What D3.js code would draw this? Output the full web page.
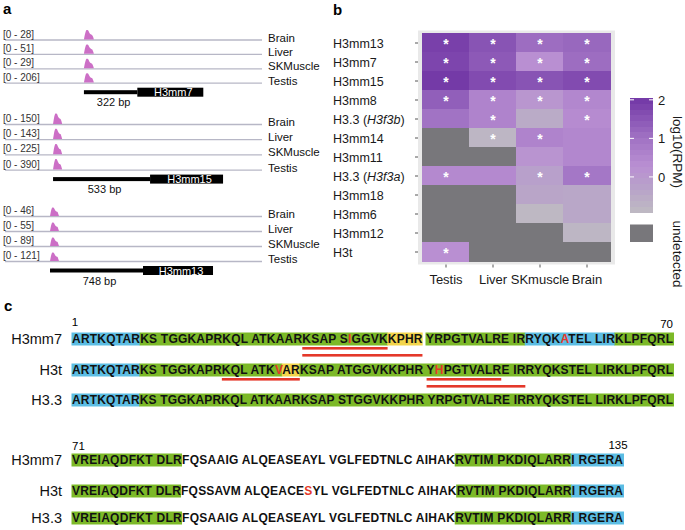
<!DOCTYPE html>
<html><head><meta charset="utf-8">
<script src="https://cdn.jsdelivr.net/npm/d3@7"></script>
<style>body{margin:0;background:#fff}svg{font-family:"Liberation Sans",Arial,Helvetica,sans-serif}</style>
</head><body>
<svg id="fig" width="685" height="530"></svg>
<script>
// ---------------- DATA ----------------
// Panel a : RNA-seq coverage tracks
const trackTissues = ["Brain", "Liver", "SKMuscle", "Testis"];
const locusGenes = ["H3mm7", "H3mm15", "H3mm13"];
const locusDistanceBp = [322, 533, 748];
const locusWindowBp = [1550, 1412, 2067];
const peakStartBp = [476, 264, 362];
const peakWidthBp = [60, 50, 72];
const geneLengthBp = [398, 401, 563];
const trackRanges = [[28, 51, 29, 206], [150, 143, 225, 390], [46, 55, 89, 121]];
const peakProfile = [0, 0.5, 0.85, 1, 1, 0.92, 0.72, 0.58, 0.52, 0.48, 0.3, 0];

// Panel b : heatmap of log10(RPM), null = undetected
const tissues = ["Testis", "Liver", "SKmuscle", "Brain"];
const genes = ["H3mm13", "H3mm7", "H3mm15", "H3mm8", "H3.3 (H3f3b)", "H3mm14", "H3mm11",
               "H3.3 (H3f3a)", "H3mm18", "H3mm6", "H3mm12", "H3t"];
const log10RPM = [
  [1.9, 1.55, 1.1, 1.2],
  [1.8, 1.45, 0.3, 1.1],
  [2.0, 1.7, 1.55, 1.7],
  [1.35, 0.6, 0.1, 0.5],
  [1.0, 0.6, -0.5, 0.4],
  [null, -0.8, 0.6, 0.5],
  [null, null, 0.15, 0.5],
  [0.45, 0.45, -0.2, 0.9],
  [null, null, -0.35, -0.4],
  [null, null, -0.85, -0.4],
  [null, null, null, -0.8],
  [0.3, null, null, null]
];
const significant = [
  [1, 1, 1, 1], [1, 1, 1, 1], [1, 1, 1, 1], [1, 1, 1, 1],
  [0, 1, 0, 1], [0, 1, 1, 0], [0, 0, 0, 0], [1, 0, 1, 1],
  [0, 0, 0, 0], [0, 0, 0, 0], [0, 0, 0, 0], [1, 0, 0, 0]
];
const legendTicks = [0, 1, 2];

// Panel c : sequence alignment
const seqNames = ["H3mm7", "H3t", "H3.3"];
const seqBlock1 = [
  "ARTKQTARKS TGGKAPRKQL ATKAARKSAP SIGGVKKPHR YRPGTVALRE IRRYQKATEL LIRKLPFQRL",
  "ARTKQTARKS TGGKAPRKQL ATKVARKSAP ATGGVKKPHR YHPGTVALRE IRRYQKSTEL LIRKLPFQRL",
  "ARTKQTARKS TGGKAPRKQL ATKAARKSAP STGGVKKPHR YRPGTVALRE IRRYQKSTEL LIRKLPFQRL"
];
const seqBlock2 = [
  "VREIAQDFKT DLRFQSAAIG ALQEASEAYL VGLFEDTNLC AIHAKRVTIM PKDIQLARRI RGERA",
  "VREIAQDFKT DLRFQSSAVM ALQEACESYL VGLFEDTNLC AIHAKRVTIM PKDIQLARRI RGERA",
  "VREIAQDFKT DLRFQSAAIG ALQEASEAYL VGLFEDTNLC AIHAKRVTIM PKDIQLARRI RGERA"
];
const blockStartResidue = [1, 71];
const blockEndResidue = [70, 135];
// [row, fromResidue, toResidue, kind]
const shadedRegions = [
  [0, 1, 8, "tail"], [0, 9, 36, "core"], [0, 37, 40, "peptide"], [0, 41, 52, "core"], [0, 53, 63, "tail"], [0, 64, 70, "core"],
  [1, 1, 8, "tail"], [1, 9, 24, "core"], [1, 25, 26, "peptide"], [1, 27, 70, "core"],
  [2, 1, 8, "tail"], [2, 9, 70, "core"],
  [0, 71, 83, "core"], [0, 116, 129, "core"], [0, 130, 135, "tail"],
  [1, 71, 83, "core"], [1, 116, 129, "core"], [1, 130, 135, "tail"],
  [2, 71, 83, "core"], [2, 116, 129, "core"], [2, 130, 135, "tail"]
];
const variantResidues = [[0, 32], [0, 57], [1, 24], [1, 42], [1, 98]];
// [row, fromResidue, toResidue, level]
const peptideUnderlines = [
  [0, 27, 36, 0], [0, 27, 40, 1],
  [1, 18, 26, 0], [1, 41, 49, 0], [1, 41, 52, 1]
];

// ---------------- STYLES ----------------
const shadeColor = {tail: "#5cbde3", core: "#7cb928", peptide: "#f3d54c"};
const red = "#e4382a";
const svg = d3.select("#fig");

// panel letters
[["a", 3, 14], ["b", 333, 15], ["c", 4, 311]].forEach(([t, x, y]) =>
  svg.append("text").attr("x", x).attr("y", y).attr("font-size", 15).attr("font-weight", "bold").text(t));

// ---------------- PANEL A ----------------
const blockLineY0 = [40, 124.5, 216.5];
const trackStep = [14.4, 15.2, 15];
const peakHeight = [10, 11, 9];
const gA = svg.append("g");
locusGenes.forEach((gene, bi) => {
  const x = d3.scaleLinear().domain([0, locusWindowBp[bi]]).range([5, 262]);
  trackTissues.forEach((t, ti) => {
    const ly = blockLineY0[bi] + ti * trackStep[bi];
    gA.append("line").attr("x1", x(0)).attr("x2", x(locusWindowBp[bi]))
      .attr("y1", ly).attr("y2", ly).attr("stroke", "#b7b7c6").attr("stroke-width", 1.3);
    gA.append("text").attr("x", 3).attr("y", ly - 2.5).attr("font-size", 10).attr("fill", "#333")
      .text(`[0 - ${trackRanges[bi][ti]}]`);
    gA.append("text").attr("x", 268).attr("y", ly + 1.5).attr("font-size", 11.5).attr("fill", "#111").text(t);
    const px = d3.scaleLinear().domain([0, peakProfile.length - 1])
      .range([x(peakStartBp[bi]), x(peakStartBp[bi] + peakWidthBp[bi])]);
    const py = d3.scaleLinear().domain([0, 1]).range([ly - 0.6, ly - peakHeight[bi]]);
    const area = d3.area().x((d, i) => px(i)).y0(ly - 0.6).y1(d => py(d)).curve(d3.curveMonotoneX);
    gA.append("path").attr("d", area(peakProfile)).attr("fill", "#cc6fc6");
  });
  const gy = blockLineY0[bi] + 3 * trackStep[bi] + 9;
  const x0 = x(peakStartBp[bi]), x1 = x(peakStartBp[bi] + locusDistanceBp[bi]),
        x2 = x(peakStartBp[bi] + locusDistanceBp[bi] + geneLengthBp[bi]);
  gA.append("rect").attr("x", x0).attr("y", gy - 2).attr("width", x1 - x0).attr("height", 4).attr("fill", "#000");
  gA.append("rect").attr("x", x1).attr("y", gy - 4.5).attr("width", x2 - x1).attr("height", 9).attr("fill", "#000");
  gA.append("text").attr("x", (x1 + x2) / 2 + 3).attr("y", gy + 4).attr("text-anchor", "middle")
    .attr("font-size", 11).attr("fill", "#fff").text(gene);
  gA.append("text").attr("x", (x0 + x1) / 2 + 3).attr("y", gy + 14).attr("text-anchor", "middle")
    .attr("font-size", 11).attr("fill", "#111").text(`${locusDistanceBp[bi]} bp`);
});

// ---------------- PANEL B ----------------
const gB = svg.append("g");
const xB = d3.scaleBand().domain(tissues).range([422.5, 610.5]);
const yB = d3.scaleBand().domain(genes).range([33.5, 261.5]);
const color = d3.scaleLinear().domain([-0.95, -0.3, 0.3, 1.0, 2.05])
  .range(["#bfbcc2", "#b8a3c9", "#b98fd2", "#a173c4", "#7237a6"]).clamp(true);
const naColor = "#78777b";
gB.append("rect").attr("x", 418).attr("y", 30.5).attr("width", 197).attr("height", 234).attr("fill", "#e9e9e9");
const gTiles = gB.append("g").attr("shape-rendering", "crispEdges");
genes.forEach((g, ri) => tissues.forEach((t, ci) => {
  const v = log10RPM[ri][ci];
  gTiles.append("rect").attr("x", xB(t) - 0.5).attr("y", yB(g) - 0.5)
    .attr("width", xB.bandwidth() + 1).attr("height", yB.bandwidth() + 1)
    .attr("fill", v === null ? naColor : color(v));
}));
genes.forEach((g, ri) => tissues.forEach((t, ci) => {
  if (significant[ri][ci]) {
    gB.append("text").attr("x", xB(t) + xB.bandwidth() / 2).attr("y", yB(g) + yB.bandwidth() / 2 + 6)
      .attr("text-anchor", "middle").attr("font-size", 14).attr("font-weight", "bold").attr("fill", "#fff").text("*");
  }
}));
// axes
const axL = gB.append("g").attr("transform", "translate(418,0)")
  .call(d3.axisLeft(yB).tickSize(3).tickFormat(""));
const axB = gB.append("g").attr("transform", "translate(0,264.5)")
  .call(d3.axisBottom(xB).tickSize(3).tickFormat(""));
[axL, axB].forEach(a => { a.select(".domain").remove(); a.selectAll("line").attr("stroke", "#555"); });
genes.forEach(g => {
  const m = g.match(/^(.*)\((.*)\)$/);
  const t = gB.append("text").attr("x", 333).attr("y", yB(g) + yB.bandwidth() / 2 + 4.5)
    .attr("font-size", 12.5).attr("fill", "#1a1a1a");
  if (m) {
    t.append("tspan").text(m[1] + "(");
    t.append("tspan").attr("font-style", "italic").text(m[2]);
    t.append("tspan").text(")");
  } else t.text(g);
});
tissues.forEach(t => gB.append("text").attr("x", xB(t) + xB.bandwidth() / 2).attr("y", 284)
  .attr("text-anchor", "middle").attr("font-size", 13).attr("fill", "#1a1a1a").text(t));
// legend colorbar
const legY = d3.scaleLinear().domain([-0.91, 2.06]).range([212, 97.5]);
const nBins = 20;
const binH = 2.97 / nBins;
const gBar = gB.append("g").attr("shape-rendering", "crispEdges");
d3.range(nBins).map(i => -0.91 + (i + 0.5) * binH).forEach(v => {
  gBar.append("rect").attr("x", 630).attr("width", 23)
    .attr("y", legY(v + binH / 2)).attr("height", legY(v - binH / 2) - legY(v + binH / 2) + 0.6)
    .attr("fill", color(v));
});
legendTicks.forEach(v => {
  gB.append("line").attr("x1", 630).attr("x2", 634).attr("y1", legY(v)).attr("y2", legY(v)).attr("stroke", "#fff");
  gB.append("line").attr("x1", 649).attr("x2", 653).attr("y1", legY(v)).attr("y2", legY(v)).attr("stroke", "#fff");
  gB.append("text").attr("x", 658).attr("y", legY(v) + 5).attr("font-size", 13).attr("fill", "#1a1a1a").text(v);
});
gB.append("rect").attr("x", 630).attr("y", 224.5).attr("width", 23).attr("height", 17.5).attr("fill", naColor);
gB.append("text").attr("transform", "translate(673,152) rotate(90)").attr("text-anchor", "middle")
  .attr("font-size", 13.5).attr("fill", "#1a1a1a").text("log10(RPM)");
gB.append("text").attr("transform", "translate(673,254) rotate(90)").attr("text-anchor", "middle")
  .attr("font-size", 13.5).attr("fill", "#1a1a1a").text("undetected");

// ---------------- PANEL C ----------------
const gC = svg.append("g");
const blocks = [seqBlock1, seqBlock2];
const rowY = [[339, 370, 400], [460, 491, 518]];
const seqX0 = 72;
const seqWidth = [601, 551];
blocks.forEach((block, bi) => {
  block.forEach((seq, ri) => {
    const cy = rowY[bi][ri];
    let n = blockStartResidue[bi] - 1;
    const resOf = Array.from(seq).map(ch => ch === " " ? null : ++n);
    const gRow = gC.append("g");
    const gShade = gRow.append("g");
    const runs = [];
    Array.from(seq).forEach((ch, i) => {
      const isRed = resOf[i] !== null && variantResidues.some(v => v[0] === ri && v[1] === resOf[i]);
      const c = isRed ? red : "#111";
      if (runs.length && runs[runs.length - 1].c === c) runs[runs.length - 1].s += ch;
      else runs.push({c, s: ch});
    });
    const txt = gRow.append("text").attr("x", seqX0).attr("y", cy + 4.4).attr("font-size", 12)
      .attr("font-weight", "bold").attr("textLength", seqWidth[bi]).attr("lengthAdjust", "spacing")
      .attr("xml:space", "preserve").style("white-space", "pre");
    runs.forEach(r => txt.append("tspan").attr("fill", r.c).text(r.s));
    const node = txt.node();
    const idxOf = r => resOf.indexOf(r);
    const startX = i => node.getStartPositionOfChar(i).x;
    const endX = i => node.getEndPositionOfChar(i).x;
    shadedRegions.filter(s => s[0] === ri && s[1] >= blockStartResidue[bi] && s[2] <= blockEndResidue[bi]).forEach(s => {
      const i0 = idxOf(s[1]), i1 = idxOf(s[2]);
      const xa = startX(i0) - 0.5;
      const xb = (i1 + 1 < seq.length ? startX(i1 + 1) : endX(i1) + 1);
      gShade.append("rect").attr("x", xa).attr("y", cy - 6.5).attr("width", xb - xa).attr("height", 13)
        .attr("fill", shadeColor[s[3]]);
    });
    peptideUnderlines.filter(u => u[0] === ri && u[1] >= blockStartResidue[bi] && u[2] <= blockEndResidue[bi]).forEach(u => {
      const i0 = idxOf(u[1]), i1 = idxOf(u[2]);
      gRow.append("rect").attr("x", startX(i0)).attr("y", cy + 8 + u[3] * 7)
        .attr("width", endX(i1) - startX(i0)).attr("height", 2.6).attr("fill", red);
    });
    gC.append("text").attr("x", 62).attr("y", cy + 5).attr("text-anchor", "end").attr("font-size", 14.5)
      .attr("fill", "#111").text(seqNames[ri]);
  });
});
// numbering
gC.append("text").attr("x", 75).attr("y", 326).attr("text-anchor", "middle").attr("font-size", 11.5).text(blockStartResidue[0]);
gC.append("text").attr("x", 673).attr("y", 328).attr("text-anchor", "end").attr("font-size", 11.5).text(blockEndResidue[0]);
gC.append("text").attr("x", 72).attr("y", 450).attr("font-size", 11.5).text(blockStartResidue[1]);
gC.append("text").attr("x", 618).attr("y", 449).attr("text-anchor", "middle").attr("font-size", 11.5).text(blockEndResidue[1]);
</script>
</body></html>
